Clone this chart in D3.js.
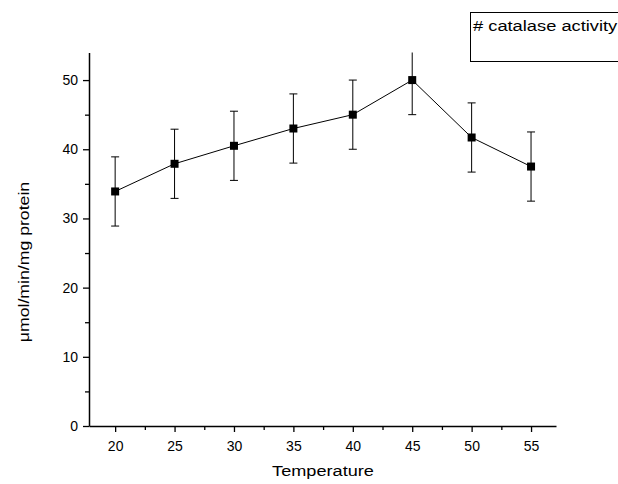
<html>
<head>
<script src="https://d3js.org/d3.v7.min.js"></script>
<style>
  body { margin: 0; background: #fff; }
  text { font-family: "Liberation Sans", Arial, sans-serif; fill: #000; }
</style>
</head>
<body>
<svg width="618" height="484"></svg>
<script>
  // catalase activity vs temperature
  const temps = [20, 25, 30, 35, 40, 45, 50, 55];
  const activity = [33.9, 37.9, 40.5, 43.0, 45.0, 50.0, 41.7, 37.5];
  const errors = [5, 5, 5, 5, 5, 5, 5, 5];
  const yTicks = [0, 10, 20, 30, 40, 50];
  const yMinor = [5, 15, 25, 35, 45];
  const xMinor = [22.5, 27.5, 32.5, 37.5, 42.5, 47.5, 52.5];

  const svg = d3.select('svg');
  const x = d3.scaleLinear().domain([17.8, 57.1]).range([89, 556]);
  const y = d3.scaleLinear().domain([0, 54]).range([426, 52.4]);

  svg.append('defs').append('clipPath').attr('id', 'plot')
    .append('rect').attr('x', 89).attr('y', 52.4).attr('width', 467).attr('height', 374);

  // axes
  svg.append('g').attr('transform', 'translate(0,426)')
    .call(d3.axisBottom(x).tickValues(temps).tickSize(6).tickPadding(9).tickSizeOuter(0));
  svg.append('g').attr('transform', 'translate(0,426)')
    .call(d3.axisBottom(x).tickValues(xMinor).tickSize(4).tickFormat('').tickSizeOuter(0))
    .select('.domain').remove();
  svg.append('g').attr('transform', 'translate(89,0)')
    .call(d3.axisLeft(y).tickValues(yTicks).tickSize(6).tickPadding(5).tickSizeOuter(0));
  svg.append('g').attr('transform', 'translate(89,0)')
    .call(d3.axisLeft(y).tickValues(yMinor).tickSize(4).tickFormat('').tickSizeOuter(0))
    .select('.domain').remove();

  svg.selectAll('.domain').attr('stroke-width', 1.5);
  svg.selectAll('.tick line').attr('stroke-width', 1.3);
  svg.selectAll('.tick text').style('font-size', '14px');

  // error bars
  const plot = svg.append('g').attr('clip-path', 'url(#plot)');
  const bars = plot.selectAll('.err').data(temps).enter().append('g');
  bars.append('line')
    .attr('x1', d => x(d)).attr('x2', d => x(d))
    .attr('y1', (d, i) => y(activity[i] - errors[i]))
    .attr('y2', (d, i) => y(activity[i] + errors[i]))
    .attr('stroke', '#000').attr('stroke-width', 1);
  [-1, 1].forEach(s => {
    bars.append('line')
      .attr('x1', d => x(d) - 4).attr('x2', d => x(d) + 4)
      .attr('y1', (d, i) => y(activity[i] + s * errors[i]))
      .attr('y2', (d, i) => y(activity[i] + s * errors[i]))
      .attr('stroke', '#000').attr('stroke-width', 1);
  });

  // line + markers
  plot.append('path')
    .datum(temps)
    .attr('d', d3.line().x(d => x(d)).y((d, i) => y(activity[i])))
    .attr('fill', 'none').attr('stroke', '#000').attr('stroke-width', 1);
  svg.selectAll('.pt').data(temps).enter().append('rect')
    .attr('x', d => x(d) - 4).attr('y', (d, i) => y(activity[i]) - 4)
    .attr('width', 8).attr('height', 8).attr('fill', '#000');

  // axis titles (text in the original is a bit stretched sideways)
  svg.append('text').attr('transform', 'translate(323,476) scale(1.17,1)').attr('text-anchor', 'middle')
    .style('font-size', '15.5px').text('Temperature');
  svg.append('text').attr('transform', 'translate(28.5,262) rotate(-90) scale(1.14,1)').attr('text-anchor', 'middle')
    .style('font-size', '15.5px').text('μmol/min/mg protein');

  // legend box
  svg.append('rect').attr('x', 470.5).attr('y', 12.5).attr('width', 160).attr('height', 49)
    .attr('fill', 'none').attr('stroke', '#000').attr('stroke-width', 1);
  svg.append('text').attr('transform', 'translate(473,31) scale(1.18,1)').style('font-size', '15.5px')
    .text('# catalase activity');
</script>
</body>
</html>
